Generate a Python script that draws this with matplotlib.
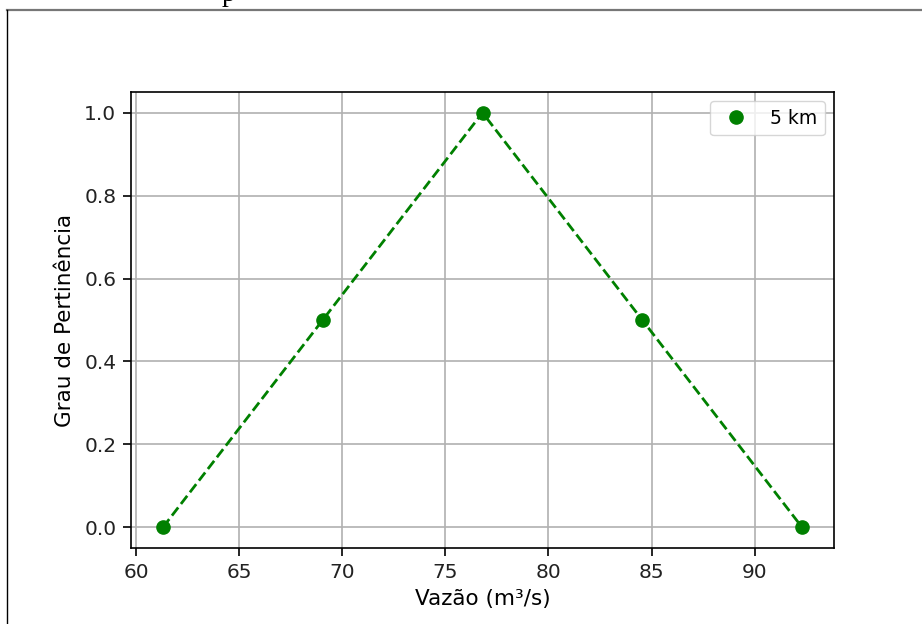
import matplotlib.pyplot as plt
from matplotlib.lines import Line2D

# membership function points
vazao = [61.3, 69.05, 76.8, 84.55, 92.3]
grau = [0.0, 0.5, 1.0, 0.5, 0.0]
label = '5 km'

plt.rcParams['font.family'] = 'DejaVu Sans'
plt.rcParams['font.size'] = 15.5

fig = plt.figure(figsize=(9.22, 6.24), dpi=100)

# page frame around the notebook output
fig.add_artist(Line2D([7 / 922, 1.0], [1 - 10 / 624, 1 - 10 / 624], color='#777777', lw=1.6))
fig.add_artist(Line2D([7 / 922, 7 / 922], [0.0, 1 - 10 / 624], color='black', lw=1.0))
# cut-off character from the surrounding text
fig.text(229 / 922, 1 - 1 / 624, 'p', family='Liberation Serif', fontsize=20,
         ha='center', va='baseline')

ax = fig.add_axes([131 / 922, 1 - 548 / 624, 703 / 922, 456 / 624])
ax.plot(vazao, grau, '--', color='green', lw=2.0)
ax.plot(vazao, grau, 'o', color='green', ms=9.5, label=label)
ax.grid(True, color='#b0b0b0', lw=1.2)
ax.set_axisbelow(True)
ax.set_xlabel('Vazão (m³/s)', labelpad=5)
ax.set_ylabel('Grau de Pertinência', labelpad=7)
ax.tick_params(labelsize=14.5, length=5.5, width=1.2, pad=5, labelcolor='#222222')
for s in ax.spines.values():
    s.set_linewidth(1.2)
ax.legend(loc='upper right', fontsize=13.5)

fig.savefig('out.png', dpi=100)
